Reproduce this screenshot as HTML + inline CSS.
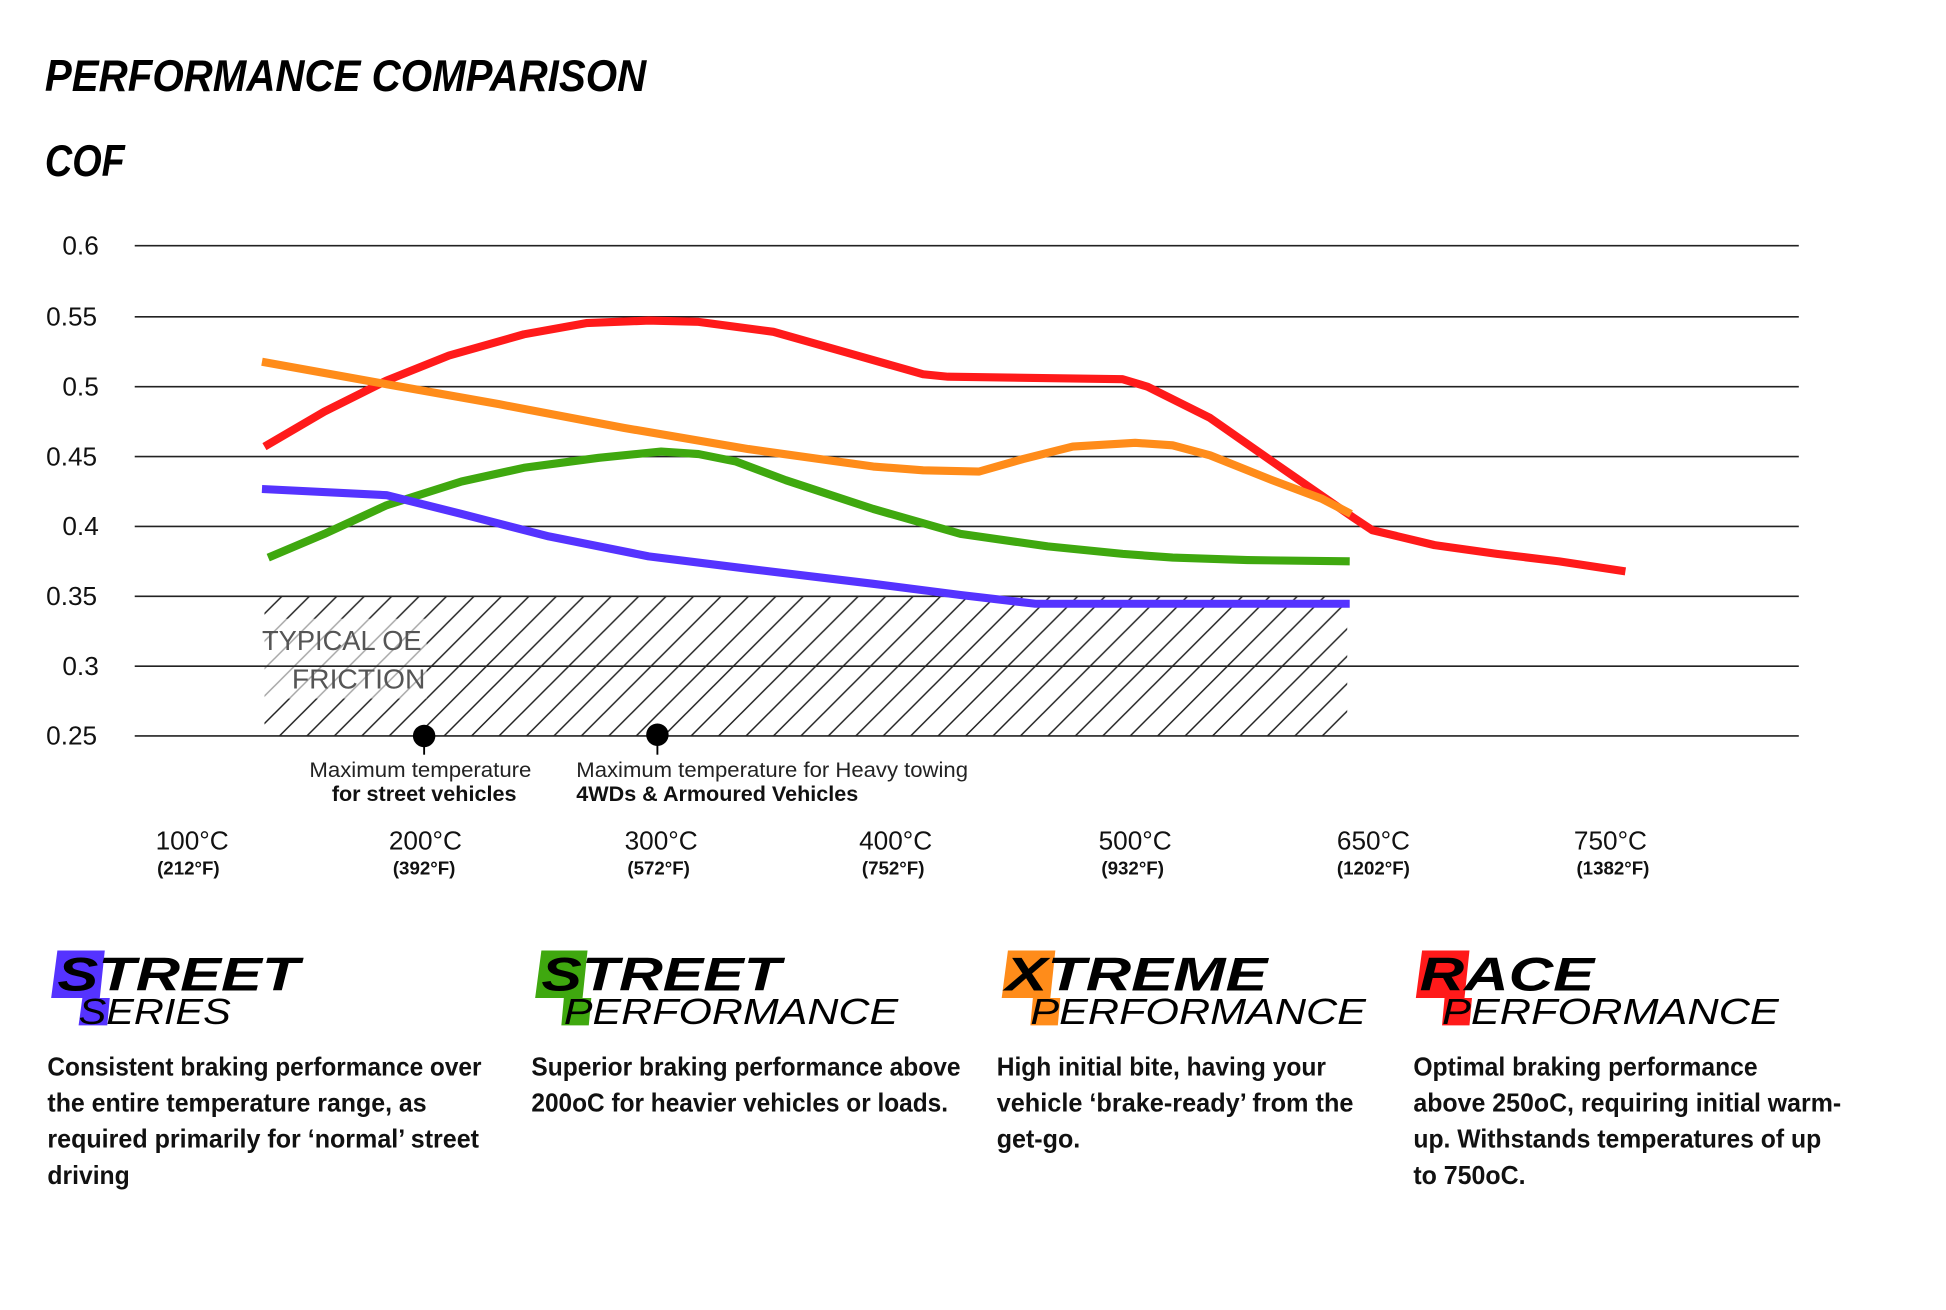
<!DOCTYPE html>
<html><head><meta charset="utf-8"><style>
html,body{margin:0;padding:0;background:#fff;}
svg{display:block;}
</style></head><body>
<svg width="1946" height="1310" viewBox="0 0 1560 1050.16" xmlns="http://www.w3.org/2000/svg" font-family="'Liberation Sans Narrow','Liberation Sans',sans-serif">
<defs>
<pattern id="h" patternUnits="userSpaceOnUse" width="22" height="22" patternTransform="skewX(0)">
<path d="M-2,24 L24,-2 M-24,24 L2,-2 M20,24 L46,-2" stroke="#222" stroke-width="1.2"/>
</pattern>
</defs>
<rect width="1560" height="1051" fill="#fff"/>
<text x="36" y="73" font-size="36" font-weight="bold" font-style="italic" textLength="482" lengthAdjust="spacingAndGlyphs">PERFORMANCE COMPARISON</text>
<text x="36" y="141" font-size="36" font-weight="bold" font-style="italic" textLength="64" lengthAdjust="spacingAndGlyphs">COF</text>
<!-- hatch -->
<rect x="212" y="478" width="868" height="112" fill="url(#h)"/>
<rect x="206" y="496" width="136" height="64" fill="#fff" opacity="0.6"/>
<g stroke="#222" stroke-width="1.3">
<line x1="108" y1="197" x2="1442" y2="197"/><line x1="108" y1="254" x2="1442" y2="254"/>
<line x1="108" y1="310" x2="1442" y2="310"/><line x1="108" y1="366" x2="1442" y2="366"/>
<line x1="108" y1="422" x2="1442" y2="422"/><line x1="108" y1="478" x2="1442" y2="478"/>
<line x1="108" y1="534" x2="1442" y2="534"/><line x1="108" y1="590" x2="1442" y2="590"/>
</g>
<g font-size="21" fill="#111">
<text x="50" y="204">0.6</text><text x="37" y="261">0.55</text><text x="50" y="317">0.5</text>
<text x="37" y="373">0.45</text><text x="50" y="429">0.4</text><text x="37" y="485">0.35</text>
<text x="50" y="541">0.3</text><text x="37" y="597">0.25</text>
</g>
<text x="210" y="521" font-size="22" fill="#555" textLength="128" lengthAdjust="spacingAndGlyphs">TYPICAL OE</text>
<text x="234" y="552" font-size="22" fill="#555" textLength="107" lengthAdjust="spacingAndGlyphs">FRICTION</text>
<g fill="none" stroke-width="6.5" stroke-linejoin="round" stroke-linecap="butt">
<polyline stroke="#ff1a1a" points="212,358 260,330 310,305 360,285 420,268 470,259 520,257 560,258 620,266 680,283 740,300 760,302 900,304 920,310 970,335 1020,370 1085,415 1100,425 1150,437 1200,444 1250,450 1303,458"/>
<polyline stroke="#ff8c1a" points="210,290 310,308 400,324 500,343 600,360 700,374 740,377 785,378 820,368 860,358 910,355 940,357 970,365 1020,385 1060,400 1083,412"/>
<polyline stroke="#3fa80f" points="215,447 260,428 310,405 370,386 420,375 480,367 530,362 560,364 590,370 630,385 700,408 770,428 840,438 900,444 940,447 1000,449 1082,450"/>
<polyline stroke="#5533ff" points="210,392 310,397 370,412 440,430 520,446 600,456 700,468 770,477 830,484 1082,484"/>
</g>
<circle cx="340" cy="590" r="9" fill="#000"/><line x1="340" y1="590" x2="340" y2="605" stroke="#000" stroke-width="1.5"/>
<circle cx="527" cy="589" r="9" fill="#000"/><line x1="527" y1="589" x2="527" y2="605" stroke="#000" stroke-width="1.5"/>
<text x="337" y="623" font-size="17" text-anchor="middle" fill="#222" textLength="178" lengthAdjust="spacingAndGlyphs">Maximum temperature</text>
<text x="340" y="642" font-size="17" font-weight="bold" text-anchor="middle" fill="#111" textLength="148" lengthAdjust="spacingAndGlyphs">for street vehicles</text>
<text x="462" y="623" font-size="17" fill="#222" textLength="314" lengthAdjust="spacingAndGlyphs">Maximum temperature for Heavy towing</text>
<text x="462" y="642" font-size="17" font-weight="bold" fill="#111" textLength="226" lengthAdjust="spacingAndGlyphs">4WDs &amp; Armoured Vehicles</text>
<g font-size="21" fill="#111" text-anchor="middle">
<text x="154" y="681">100°C</text><text x="341" y="681">200°C</text><text x="530" y="681">300°C</text>
<text x="718" y="681">400°C</text><text x="910" y="681">500°C</text><text x="1101" y="681">650°C</text><text x="1291" y="681">750°C</text>
</g>
<g font-size="15" font-weight="bold" fill="#111" text-anchor="middle">
<text x="151" y="701">(212°F)</text><text x="340" y="701">(392°F)</text><text x="528" y="701">(572°F)</text>
<text x="716" y="701">(752°F)</text><text x="908" y="701">(932°F)</text><text x="1101" y="701">(1202°F)</text><text x="1293" y="701">(1382°F)</text>
</g>
<!-- logos -->
<g>
<polygon points="46,762 84,762 80,800 88,800 86,822 63,822 66,800 41,800" fill="#5533ff"/>
<text x="46" y="794" font-size="38" font-weight="bold" font-style="italic" textLength="194" lengthAdjust="spacingAndGlyphs">STREET</text>
<text x="63" y="821" font-size="29" font-style="italic" textLength="122" lengthAdjust="spacingAndGlyphs">SERIES</text>
<polygon points="434,762 471,762 467,800 474,800 472,822 450,822 452,800 429,800" fill="#3fa80f"/>
<text x="434" y="794" font-size="38" font-weight="bold" font-style="italic" textLength="192" lengthAdjust="spacingAndGlyphs">STREET</text>
<text x="452" y="821" font-size="29" font-style="italic" textLength="268" lengthAdjust="spacingAndGlyphs">PERFORMANCE</text>
<polygon points="808,762 846,762 842,800 850,800 848,822 826,822 828,800 803,800" fill="#ff8c1a"/>
<text x="806" y="794" font-size="38" font-weight="bold" font-style="italic" textLength="210" lengthAdjust="spacingAndGlyphs">XTREME</text>
<text x="826" y="821" font-size="29" font-style="italic" textLength="269" lengthAdjust="spacingAndGlyphs">PERFORMANCE</text>
<polygon points="1140,762 1178,762 1174,800 1180,800 1178,822 1156,822 1158,800 1135,800" fill="#ff1a1a"/>
<text x="1138" y="794" font-size="38" font-weight="bold" font-style="italic" textLength="140" lengthAdjust="spacingAndGlyphs">RACE</text>
<text x="1156" y="821" font-size="29" font-style="italic" textLength="270" lengthAdjust="spacingAndGlyphs">PERFORMANCE</text>
</g>
<g font-size="21" font-weight="bold" fill="#111">
<text x="38" y="862" textLength="348" lengthAdjust="spacingAndGlyphs">Consistent braking performance over</text>
<text x="38" y="891" textLength="304" lengthAdjust="spacingAndGlyphs">the entire temperature range, as</text>
<text x="38" y="920" textLength="346" lengthAdjust="spacingAndGlyphs">required primarily for ‘normal’ street</text>
<text x="38" y="949" textLength="66" lengthAdjust="spacingAndGlyphs">driving</text>
<text x="426" y="862" textLength="344" lengthAdjust="spacingAndGlyphs">Superior braking performance above</text>
<text x="426" y="891" textLength="334" lengthAdjust="spacingAndGlyphs">200oC for heavier vehicles or loads.</text>
<text x="799" y="862" textLength="264" lengthAdjust="spacingAndGlyphs">High initial bite, having your</text>
<text x="799" y="891" textLength="286" lengthAdjust="spacingAndGlyphs">vehicle ‘brake-ready’ from the</text>
<text x="799" y="920" textLength="67" lengthAdjust="spacingAndGlyphs">get-go.</text>
<text x="1133" y="862" textLength="276" lengthAdjust="spacingAndGlyphs">Optimal braking performance</text>
<text x="1133" y="891" textLength="343" lengthAdjust="spacingAndGlyphs">above 250oC, requiring initial warm-</text>
<text x="1133" y="920" textLength="327" lengthAdjust="spacingAndGlyphs">up. Withstands temperatures of up</text>
<text x="1133" y="949" textLength="90" lengthAdjust="spacingAndGlyphs">to 750oC.</text>
</g>
</svg>
</body></html>
